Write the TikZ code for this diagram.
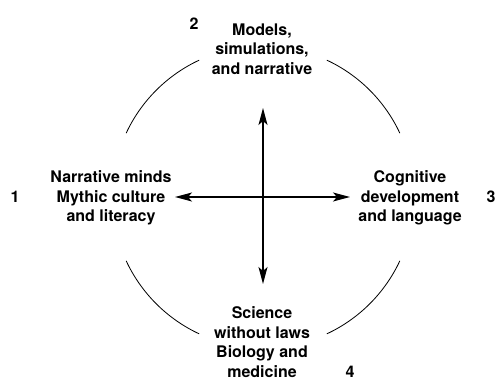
\documentclass[tikz,border=0pt]{standalone}
\usepackage{fontspec}
\setmainfont{TeX Gyre Heros}
\usetikzlibrary{arrows.meta, positioning}

\begin{document}
\begin{tikzpicture}[x=1pt, y=1pt, >={Stealth[length=17pt, width=9pt, inset=4pt]},
        every node/.style={font=\fontsize{16}{19.5}\selectfont\bfseries, align=center, inner sep=0pt}]
        \useasboundingbox (0,0) rectangle (498,381);
        \coordinate (centre) at (263,184);

        % the four stages
        \node (models) at (262,332) {Models,\\simulations,\\and narrative};
        \node (mythic) at (111,183) {Narrative minds\\Mythic culture\\and literacy};
        \node (cognitive) at (410,183) {Cognitive\\development\\and language};
        \node (science) at (262,39) {Science\\without laws\\Biology and\\medicine};

        \node at (194,357) {2};
        \node at (15,184) {1};
        \node at (491,184) {3};
        \node at (350,9) {4};

        % circle broken by the labels
        \draw[line width=0.8pt] (centre) ++(115:151) arc (115:155:151);
        \draw[line width=0.8pt] (centre) ++(25:151) arc (25:65:151);
        \draw[line width=0.8pt] (centre) ++(205:151) arc (205:245:151);
        \draw[line width=0.8pt] (centre) ++(295:151) arc (295:335:151);

        % the cross
        \coordinate (up) at (263,273);
        \coordinate (down) at (263,97);
        \coordinate (west) at (175,184);
        \coordinate (east) at (350,184);
        \draw[<->, line width=1.1pt] (west) -- (east);
        \draw[<->, line width=1.1pt] (down) -- (up);
\end{tikzpicture}
\end{document}
